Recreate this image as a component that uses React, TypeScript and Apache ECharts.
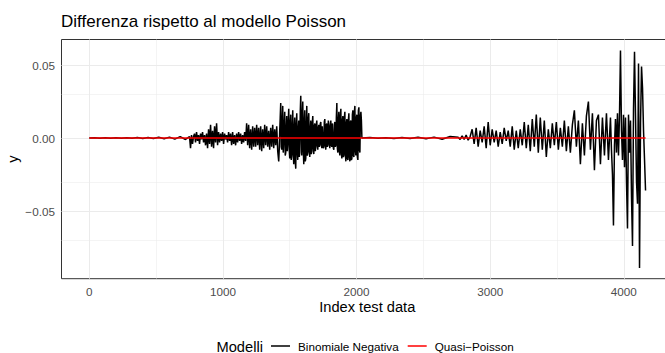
import { useEffect, useRef } from "react";
import * as echarts from "echarts";

// Prediction differences with respect to the Poisson model, stored in units of 1e-3.
const UNIT = 1e-3;

// Quiet stretch at the start of the test index
const headStart = 0;
const headStep = 40;
const headValues = [0, 0.1, -0.1, 0.2, -0.1, 0.1, -0.2, 0.2, -0.2, 0.3, -0.3, 0.3, -0.4, 0.5, -0.5, 0.6, -0.8, 0.9, -1];

// First burst of disagreement, moderate part
const burstAStart = 750;
const burstAStep = 7.5;
const burstAValues = [
  1, -7, 2, -4, 1,
  3, -3, 4, -2, 2, -4, 3, -1, 4, -3, 2, -5, 3, -7,
  6, -4, 9, -6, 5, -7, 8, -3, 10, -5,
  4, -3, 3, -2, 4, -4, 3, -1, 2, -3, 4, -2, 3, -5, 4, -4, 2, -5, 3, -3, 4, -2, 3, -4, 2, -3, 4, -2,
  10, -5, 9, -7, 6, -8, 8, -6, 7,
  -6, 9, -5, 7, -8, 8, -9, 6, -7, 9, -5, 8, -6, 5, -8, 7, -6, 9, -7, 6, -5, 8, -9,
];

// First burst, dense high-variance part
const burstDenseStart = 1417.5;
const burstDenseStep = 3.75;
const burstDenseValues = [
  -16, -8, 5, 14, 24, -6, -8, 12, 22, -10, -3, 9, 18, -12, -10, 6, 15, -9, -4, 11,
  20, -8, -14, 10, 16, -15, -12, 8, 19, -11, -18, 7, 14, -16, -21, 9, 17, -10, -15, 6, 12, -13, -10, 18, 29, 4,
  -12, 14, 25, -8, -18, 11, 19, -16, -14, 8, 22, -12, -10, 13, 17, -9, -13, 6, 12, -11, -9, 10, 15, -7, -11, 8, 10, -9,
  -6, 9, 12, -5, -8, 7, 9, -6, -5, 10, 11, -4, -7, 8, 8, -7, -6, 11, 13, -5,
  -8, 9, 10, -6, -5, 12, 9, -4, -7, 8, 12, -5, -6, 10, 10, -7, -8, 9, 11, -6,
  -5, 14, 24, -7, -10, 12, 18, -9, -12, 15,
  20, -10, -14, 12, 15, -13, -12, 14, 18, -11, -16, 10, 13, -14, -15, 12, 17, -13, -16, 11,
  12, -15, -14, 16, 19, -12, -13, 18, 22, -9, -12, 14, 16, -13, -15, 19, 21, -8, -10, 15,
  18, 12,
];

// Quiet stretch in the middle
const midStart = 2040;
const midStep = 60;
const midValues = [0, 0.3, -0.2, 0.2, -0.3, 0.3, -0.4, 0.5, -0.5, 0.6, -0.8, 1];

// Second, growing burst
const burstBStart = 2760;
const burstBStep = 15;
const burstBValues = [
  0.5, -1, 1.5, -1, 2, -1.5, 1,
  6, -4, 7, -6, 5, -3, 8, -7, 11,
  -5, 6, -3, 5, -6, 4, -4, 7, -2, 5,
  -6, 8, -8, 5, -7, 6, -5, 11,
  -7, 9, -9, 13, -6, 16, -10, 14, -8, 12, -13, 6,
  -7, 10, -5, 11, -8, 7, -6, 12, -9, 8, -10, 9,
  19, -6, 12, -18, 10, -12, 15, 25, -8, 17, -22, 12, 16, -18,
  14, -12, 17, -15,
];

// Final, largest swings
const tailStart = 3900;
const tailStep = 7.5;
const tailValues = [
  14, -8, -25, -60, -5, 13, -10, 17, -12, 15,
  60, 5, -15, 16, -20, 14, -30, -62, 16, -10,
  12, -40, -74, 20, 59, 15, -30, -45, 51, -89,
  10, 49, 34, 5, -15, -36,
];

const runs = [
  { start: headStart, step: headStep, values: headValues },
  { start: burstAStart, step: burstAStep, values: burstAValues },
  { start: burstDenseStart, step: burstDenseStep, values: burstDenseValues },
  { start: midStart, step: midStep, values: midValues },
  { start: burstBStart, step: burstBStep, values: burstBValues },
  { start: tailStart, step: tailStep, values: tailValues },
];

// Quasi-Poisson predictions coincide with the Poisson ones
const quasiIndex = [0, 4162.5];
const quasiValues = [0, 0];

const xTicks = [0, 1000, 2000, 3000, 4000];
const xMinor = [500, 1500, 2500, 3500];
const yTicks = [-0.05, 0, 0.05];
const yMinor = [-0.075, -0.025, 0.025];

const seriesNames = ["Binomiale Negativa", "Quasi\u2212Poisson"];
const legendTitle = "Modelli";
const chartTitle = "Differenza rispetto al modello Poisson";

const FONT = "'Liberation Sans', Arial, Helvetica, sans-serif";

function formatY(v: number): string {
  if (Math.abs(v) < 1e-12) return "0.00";
  return (v < 0 ? "\u2212" : "") + Math.abs(v).toFixed(2);
}

export default function App() {
  const ref = useRef<HTMLDivElement>(null);

  useEffect(() => {
    if (!ref.current) return;
    const chart = echarts.init(ref.current, undefined, { renderer: "svg" });

    const nbData: number[][] = [];
    runs.forEach((r) => {
      r.values.forEach((v, i) => nbData.push([r.start + i * r.step, v * UNIT]));
    });
    const qpData = quasiIndex.map((x, i) => [x, quasiValues[i]]);

    // Background grid lines, kept beneath the data lines
    const gridLine = (width: number) => ({
      silent: true,
      z: 1,
      symbol: ["none", "none"],
      label: { show: false },
      emphasis: { disabled: true },
      lineStyle: { color: "#ebebeb", width, type: "solid" as const },
    });

    chart.setOption({
      animation: false,
      backgroundColor: "#ffffff",
      textStyle: { fontFamily: FONT },
      title: [
        {
          text: chartTitle,
          left: 61,
          top: 13,
          padding: 0,
          textStyle: { fontSize: 17, fontWeight: "normal", color: "#000000", fontFamily: FONT },
        },
        {
          text: legendTitle,
          left: 216.5,
          top: 339.5,
          padding: 0,
          textStyle: { fontSize: 14.67, fontWeight: "normal", color: "#000000", fontFamily: FONT },
        },
      ],
      grid: {
        left: 61.5,
        top: 39.5,
        width: 611.5,
        height: 239.2,
        show: true,
        containLabel: false,
        outerBoundsMode: "none",
        backgroundColor: "#ffffff",
        borderColor: "#333333",
        borderWidth: 1,
      },
      xAxis: {
        type: "value",
        min: -208,
        max: 4368,
        name: "Index test data",
        nameLocation: "middle",
        nameGap: 21,
        nameMoveOverlap: false,
        nameTextStyle: { fontSize: 14.67, color: "#000000", fontFamily: FONT },
        axisLine: { show: false },
        axisTick: {
          show: true,
          length: 3.7,
          customValues: xTicks,
          lineStyle: { color: "#333333", width: 1 },
        },
        axisLabel: {
          customValues: xTicks,
          margin: 6.6,
          fontSize: 11.7,
          color: "#4d4d4d",
          fontFamily: FONT,
          formatter: (v: number) => String(v),
        },
        splitLine: { show: false },
      },
      yAxis: {
        type: "value",
        min: -0.09637,
        max: 0.06747,
        name: "y",
        nameLocation: "middle",
        nameRotate: 90,
        nameGap: 41,
        nameMoveOverlap: false,
        nameTextStyle: { fontSize: 14.67, color: "#000000", fontFamily: FONT },
        axisLine: { show: false },
        axisTick: {
          show: true,
          length: 3.7,
          customValues: yTicks,
          lineStyle: { color: "#333333", width: 1 },
        },
        axisLabel: {
          customValues: yTicks,
          margin: 6.6,
          fontSize: 11.7,
          color: "#4d4d4d",
          fontFamily: FONT,
          formatter: formatY,
        },
        splitLine: { show: false },
      },
      legend: {
        data: seriesNames,
        left: 271,
        top: 340,
        icon: "rect",
        itemWidth: 19,
        itemHeight: 1.5,
        itemGap: 9,
        padding: 0,
        textStyle: { fontSize: 11.7, color: "#000000", fontFamily: FONT, padding: [0, 0, 0, 3] },
      },
      series: [
        {
          name: "grid-minor",
          type: "line",
          data: [],
          z: 1,
          silent: true,
          markLine: {
            ...gridLine(0.55),
            data: [...xMinor.map((v) => ({ xAxis: v })), ...yMinor.map((v) => ({ yAxis: v }))],
          },
        },
        {
          name: "grid-major",
          type: "line",
          data: [],
          z: 1,
          silent: true,
          markLine: {
            ...gridLine(1.07),
            data: [...xTicks.map((v) => ({ xAxis: v })), ...yTicks.map((v) => ({ yAxis: v }))],
          },
        },
        {
          name: seriesNames[0],
          type: "line",
          data: nbData,
          showSymbol: false,
          symbol: "none",
          z: 3,
          color: "#000000",
          itemStyle: { color: "#000000" },
          lineStyle: { color: "#000000", width: 1.5 },
        },
        {
          name: seriesNames[1],
          type: "line",
          data: qpData,
          showSymbol: false,
          symbol: "none",
          z: 4,
          color: "#ff0000",
          itemStyle: { color: "#ff0000" },
          lineStyle: { color: "#ff0000", width: 1.42 },
        },
      ],
    });

    return () => chart.dispose();
  }, []);

  return (
    <div
      ref={ref}
      style={{ position: "fixed", left: 0, top: 0, width: 665, height: 353, background: "#ffffff" }}
    />
  );
}
